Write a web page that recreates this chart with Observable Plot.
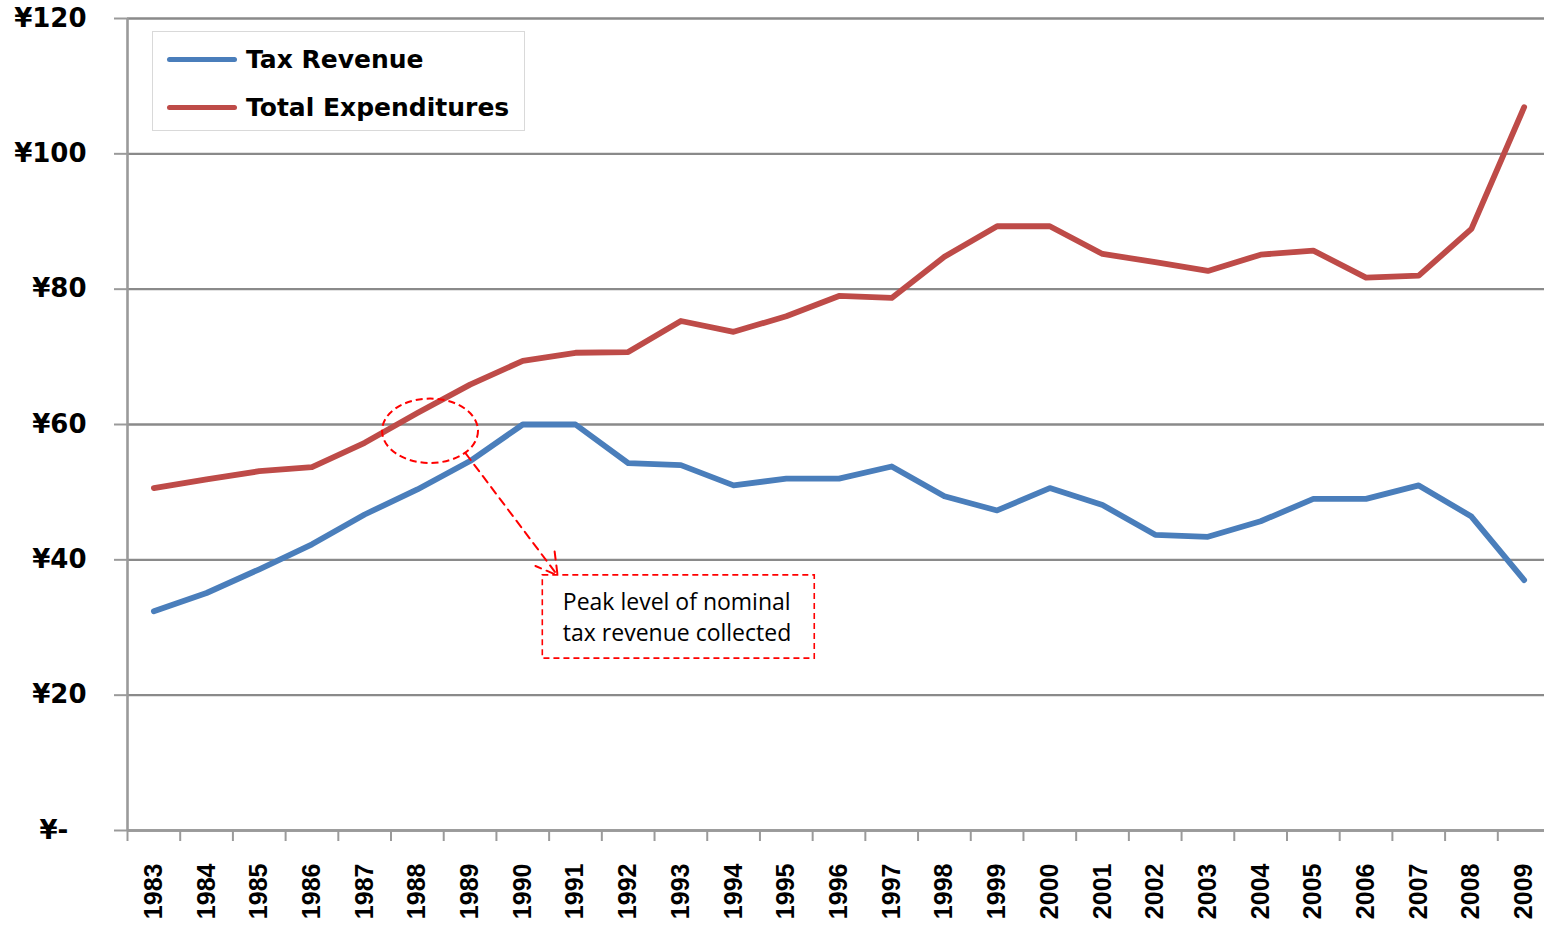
<!DOCTYPE html>
<html><head><meta charset="utf-8">
<script src="https://cdn.jsdelivr.net/npm/d3@7"></script>
<script src="https://cdn.jsdelivr.net/npm/@observablehq/plot@0.6"></script>
<style>
html,body{margin:0;padding:0;background:#fff;overflow:hidden;}
#wrap{position:relative;width:1544px;height:925px;overflow:hidden;}
#chart{position:absolute;left:0;top:0;width:1550px;}
#chart svg{max-width:none !important;}
#legend{position:absolute;left:152px;top:31px;width:373px;height:100px;border:1px solid #d9d9d9;background:#fff;box-sizing:border-box;font-family:"DejaVu Sans";font-weight:bold;font-size:25px;color:#000;}
.row{position:absolute;left:14px;height:30px;display:flex;align-items:center;white-space:nowrap;}
.sw{width:70px;height:5px;border-radius:3px;margin-right:9px;}
</style></head><body>
<div id="wrap"><div id="chart"></div><div id="legend"></div></div>
<script>
// ---- data ----
const years = [1983,1984,1985,1986,1987,1988,1989,1990,1991,1992,1993,1994,1995,1996,1997,1998,1999,2000,2001,2002,2003,2004,2005,2006,2007,2008,2009];
const taxRevenue = [32.4,35.1,38.6,42.3,46.7,50.4,54.6,60.0,60.0,54.3,54.0,51.0,52.0,52.0,53.8,49.4,47.3,50.6,48.1,43.7,43.4,45.7,49.0,49.0,51.0,46.4,37.0];
const totalExpenditures = [50.6,51.9,53.1,53.7,57.3,61.7,65.9,69.4,70.6,70.7,75.3,73.7,76.0,79.0,78.7,84.8,89.3,89.3,85.2,84.0,82.7,85.1,85.7,81.7,82.0,88.9,106.9];
const seriesNames = ["Tax Revenue", "Total Expenditures"];
const seriesColors = ["#4A7EBB", "#BE4B48"];
const yTicks = [0, 20, 40, 60, 80, 100, 120];
const yTickLabels = ["¥-\u2007", "¥20", "¥40", "¥60", "¥80", "¥100", "¥120"];
const annotationText = "Peak level of nominal\ntax revenue collected";
const peakEllipse = [{year: 1988.25, value: 59.0, rYear: 0.91, rValue: 4.76}];
const annotationArrow = [{x1: 1988.92, y1: 55.7, x2: 1990.66, y2: 37.7}];
const annotationBox = [{x1: 1990.38, x2: 1995.54, y1: 37.7, y2: 25.4}];
const annotationLabel = [{year: 1990.76, value: 31.8, label: annotationText}];

// ---- build ----
const rows = [];
years.forEach((yr, i) => {
  rows.push({year: yr, value: taxRevenue[i], series: seriesNames[0]});
});
years.forEach((yr, i) => {
  rows.push({year: yr, value: totalExpenditures[i], series: seriesNames[1]});
});
const bandEdges = years.map(y => y - 0.5).concat([years[years.length - 1] + 0.5]);

const ellipseMark = (index, scales) => {
  const g = document.createElementNS("http://www.w3.org/2000/svg", "g");
  for (const e of peakEllipse) {
    const el = document.createElementNS("http://www.w3.org/2000/svg", "ellipse");
    const cx = scales.x(e.year), cy = scales.y(e.value);
    el.setAttribute("cx", cx);
    el.setAttribute("cy", cy);
    el.setAttribute("rx", Math.abs(scales.x(e.year + e.rYear) - cx));
    el.setAttribute("ry", Math.abs(scales.y(e.value + e.rValue) - cy));
    el.setAttribute("fill", "none");
    el.setAttribute("stroke", "#ff0000");
    el.setAttribute("stroke-width", "2");
    el.setAttribute("stroke-dasharray", "7,4");
    g.appendChild(el);
  }
  return g;
};

const chart = Plot.plot({
  width: 1550,
  height: 925,
  marginLeft: 127,
  marginRight: 0,
  marginTop: 18,
  marginBottom: 95,
  style: {fontFamily: "DejaVu Sans", background: "#fff", overflow: "visible", maxWidth: "none"},
  x: {type: "linear", domain: [bandEdges[0], bandEdges[bandEdges.length - 1]]},
  y: {domain: [0, 120]},
  color: {domain: seriesNames, range: seriesColors},
  marks: [
    Plot.gridY(yTicks, {stroke: "#8a8a8a", strokeOpacity: 1, strokeWidth: 2.4}),
    Plot.axisY(yTicks, {tickSize: 13, tickPadding: 28, tickFormat: d => yTickLabels[yTicks.indexOf(d)],
      stroke: "#9a9a9a", strokeWidth: 2, color: "#000", fontSize: 26, fontWeight: "bold", fontFamily: "DejaVu Sans"}),
    Plot.axisX(bandEdges, {tickSize: 11, tickFormat: () => "", stroke: "#9a9a9a", strokeWidth: 2}),
    Plot.axisX(years, {tickSize: 0, tickPadding: 33, tickRotate: -90, tickFormat: d => String(d),
      color: "#000", fontSize: 25, fontWeight: "bold", fontFamily: "Liberation Sans"}),
    Plot.ruleX([bandEdges[0]], {y1: 0, y2: 120, stroke: "#9a9a9a", strokeWidth: 2.6}),
    Plot.ruleY([0], {stroke: "#9a9a9a", strokeWidth: 2.4}),
    Plot.line(rows, {x: "year", y: "value", z: "series", stroke: "series", strokeWidth: 5.8,
      strokeLinejoin: "round", strokeLinecap: "round"}),
    ellipseMark,
    Plot.arrow(annotationArrow, {x1: "x1", y1: "y1", x2: "x2", y2: "y2", stroke: "#ff0000",
      strokeWidth: 2, strokeDasharray: "8,6", headLength: 18, bend: false}),
    Plot.rect(annotationBox, {x1: "x1", x2: "x2", y1: "y1", y2: "y2", fill: "#fff",
      stroke: "#ff0000", strokeWidth: 1.6, strokeDasharray: "6,4"}),
    Plot.text(annotationLabel, {x: "year", y: "value", text: "label", textAnchor: "start",
      lineAnchor: "middle", lineHeight: 1.38, fontSize: 23, fontFamily: "Open Sans", fill: "#000"})
  ]
});
document.getElementById("chart").appendChild(chart);

// legend overlay
const legend = document.getElementById("legend");
const rowTops = [12, 60];
seriesNames.forEach((name, i) => {
  const r = document.createElement("div");
  r.className = "row";
  r.style.top = rowTops[i] + "px";
  const sw = document.createElement("span");
  sw.className = "sw";
  sw.style.background = seriesColors[i];
  const t = document.createElement("span");
  t.textContent = name;
  r.appendChild(sw); r.appendChild(t);
  legend.appendChild(r);
});
</script>
</body></html>
